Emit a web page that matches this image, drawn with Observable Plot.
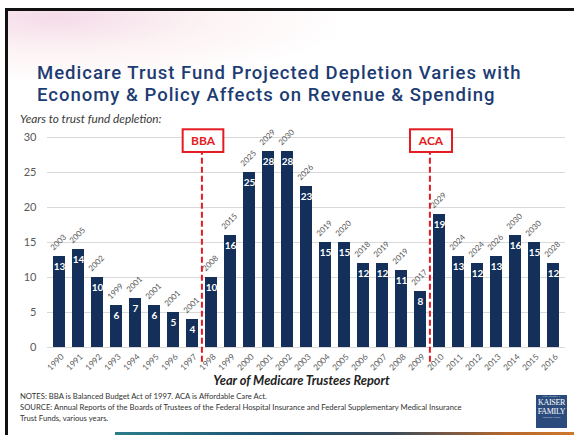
<!DOCTYPE html>
<html>
<head>
<meta charset="utf-8">
<script src="https://cdn.jsdelivr.net/npm/d3@7"></script>
<script src="https://cdn.jsdelivr.net/npm/@observablehq/plot@0.6"></script>
<style>
  html, body { margin: 0; padding: 0; background: #fff; }
  #page { position: relative; width: 574px; height: 435px; overflow: hidden; background: #fff; font-family: Lato, "Open Sans", sans-serif; }
  #glow { position: absolute; left: 5px; top: 10px; width: 330px; height: 70px;
    background: radial-gradient(ellipse at 15% 10%, rgba(240,208,225,0.75) 0%, rgba(250,230,232,0.45) 40%, rgba(255,255,255,0) 75%); }
  #borderTop { position: absolute; left: 5px; top: 8px; width: 569px; height: 3px; background: #111; }
  #borderLeft { position: absolute; left: 5px; top: 8px; width: 3px; height: 427px; background: #111; }
  .title { position: absolute; left: 37px; font-family: Roboto, sans-serif; font-weight: 500; font-size: 18.5px; line-height: 22px; letter-spacing: 1px; color: #1d3c73; white-space: nowrap; }
  #t1 { top: 62px; }
  #t2 { top: 84px; }
  #subtitle { position: absolute; left: 20px; top: 111px; font-style: italic; font-size: 11.8px; color: #3a3a3a; white-space: nowrap; }
  #chart { position: absolute; left: 0; top: 120px; }
  #notes { position: absolute; left: 20px; top: 391px; font-size: 7.7px; line-height: 11px; color: #333; white-space: nowrap; }
  #logo { position: absolute; left: 536px; top: 395px; width: 31px; height: 33px; background: #2b4b7c; color: #fff; text-align: center; font-family: "Liberation Serif", serif; }
  #logo .s { font-size: 2.6px; line-height: 4px; letter-spacing: 0.1px; }
  #logo .b { font-size: 8px; line-height: 8.5px; letter-spacing: -0.3px; }
  #strip { position: absolute; left: 115px; top: 432px; width: 459px; height: 3px;
    background: linear-gradient(to right, #2b7d8c 0%, #1f4f6e 35%, #3a4a5a 60%, #b4682c 85%, #d0782a 100%); }
</style>
</head>
<body>
<div id="page">
  <div id="glow"></div>
  <div id="borderTop"></div>
  <div id="borderLeft"></div>
  <div class="title" id="t1">Medicare Trust Fund Projected Depletion Varies with</div>
  <div class="title" id="t2">Economy &amp; Policy Affects on Revenue &amp; Spending</div>
  <div id="subtitle">Years to trust fund depletion:</div>
  <div id="chart"></div>
  <div id="notes">NOTES: BBA is Balanced Budget Act of 1997. ACA is Affordable Care Act.<br>SOURCE: Annual Reports of the Boards of Trustees of the Federal Hospital Insurance and Federal Supplementary Medical Insurance<br>Trust Funds, various years.</div>
  <div id="logo"><div class="s">THE HENRY J.</div><div class="b">KAISER</div><div class="b">FAMILY</div><div class="s">FOUNDATION</div></div>
  <div id="strip"></div>
</div>
<script>
// ---- Data ----
const reportYears = ["1990","1991","1992","1993","1994","1995","1996","1997","1998","1999","2000","2001","2002","2003","2004","2005","2006","2007","2008","2009","2010","2011","2012","2013","2014","2015","2016"];
const yearsToDepletion = [13,14,10,6,7,6,5,4,10,16,25,28,28,23,15,15,12,12,11,8,19,13,12,13,16,15,12];
const depletionYear = ["2003","2005","2002","1999","2001","2001","2001","2001","2008","2015","2025","2029","2030","2026","2019","2020","2018","2019","2019","2017","2029","2024","2024","2026","2030","2030","2028"];
const yTicks = [0,5,10,15,20,25,30];
const eventLabels = ["BBA","ACA"];
const eventFirstReport = ["1998","2010"];

const data = reportYears.map((yr, i) => ({year: yr, value: yearsToDepletion[i], depl: depletionYear[i]}));
const events = eventLabels.map((l, i) => ({label: l, year: eventFirstReport[i]}));

const W = 574, H = 270, ML = 47, MR = 9, MT = 17, MB = 43;
const step = (W - ML - MR) / reportYears.length;
const RED = "#e31b23";

const plot = Plot.plot({
  width: W, height: H,
  marginLeft: ML, marginRight: MR, marginTop: MT, marginBottom: MB,
  style: {fontFamily: "Lato, sans-serif", background: "transparent", overflow: "visible"},
  x: {domain: reportYears, paddingInner: 0.35, paddingOuter: 0.175, label: null},
  y: {domain: [0, 30], label: null},
  marks: [
    Plot.gridY(yTicks, {stroke: "#d9d9d9", strokeOpacity: 1}),
    Plot.axisY(yTicks, {tickSize: 0, tickPadding: 11, fontSize: 11, fill: "#595959", label: null}),
    Plot.barY(data, {x: "year", y: "value", fill: "#142f5a"}),
    Plot.text(data, {x: "year", y: "value", text: d => String(d.value), dy: 10, fill: "white", fontWeight: "bold", fontSize: 10}),
    Plot.text(data, {x: "year", y: "value", text: "depl", rotate: -45, dy: -14, dx: -1, fill: "#595959", fontSize: 8}),
    Plot.axisX({tickSize: 0, tickRotate: -45, tickPadding: 8, dx: 3, fontSize: 8.3, fill: "#595959", label: null}),
    Plot.ruleX(events, {x: "year", y1: -2.1, y2: 27.9, dx: -step / 2, stroke: RED, strokeWidth: 2, strokeDasharray: "6,3"}),
    Plot.text(["Year of Medicare Trustees Report"], {frameAnchor: "bottom", dy: 37, dx: -5, text: d => d, fontWeight: "bold", fontStyle: "italic", fontSize: 12.8, fill: "#222"})
  ]
});

document.getElementById("chart").appendChild(plot);

// Event label boxes, positioned through the plot's own scales
const sx = plot.scale("x"), sy = plot.scale("y");
const svg = d3.select(plot);
const g = svg.append("g");
events.forEach(ev => {
  const cx = sx.apply(ev.year) - (sx.step - sx.bandwidth) / 2 + 1.5;
  const yTop = sy.apply(31.1), yBot = sy.apply(27.86);
  const t = g.append("text")
    .attr("x", cx).attr("y", (yTop + yBot) / 2)
    .attr("dy", "0.35em")
    .attr("text-anchor", "middle")
    .attr("font-family", "Lato, sans-serif")
    .attr("font-weight", "bold")
    .attr("font-size", 12)
    .attr("fill", RED)
    .text(ev.label);
  const bw = t.node().getBBox().width + 16;
  g.insert("rect", "text")
    .attr("x", cx - bw / 2).attr("y", yTop)
    .attr("width", bw).attr("height", yBot - yTop)
    .attr("fill", "white").attr("stroke", RED).attr("stroke-width", 2);
});
</script>
</body>
</html>
